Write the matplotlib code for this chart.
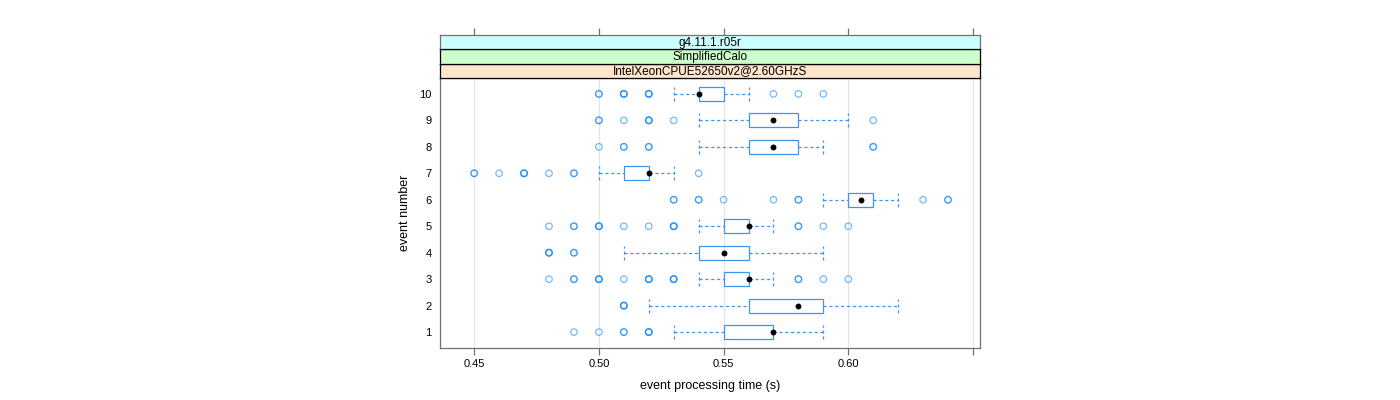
import matplotlib
matplotlib.use("Agg")
import matplotlib.pyplot as plt
from matplotlib.patches import Rectangle

plt.rcParams['font.family'] = ['Liberation Sans', 'DejaVu Sans']

# ---- data ----
events = [1, 2, 3, 4, 5, 6, 7, 8, 9, 10]
whisker_lo = [0.53, 0.52, 0.54, 0.51, 0.54, 0.59, 0.50, 0.54, 0.54, 0.53]
box_lo     = [0.55, 0.56, 0.55, 0.54, 0.55, 0.60, 0.51, 0.56, 0.56, 0.54]
median     = [0.57, 0.58, 0.56, 0.55, 0.56, 0.605, 0.52, 0.57, 0.57, 0.54]
box_hi     = [0.57, 0.59, 0.56, 0.56, 0.56, 0.61, 0.52, 0.58, 0.58, 0.55]
whisker_hi = [0.59, 0.62, 0.57, 0.59, 0.57, 0.62, 0.53, 0.59, 0.60, 0.56]
# outliers: (value, multiplicity) per event
outliers = [
    [(0.49, 1), (0.50, 1), (0.51, 2), (0.52, 3)],
    [(0.51, 3)],
    [(0.48, 1), (0.49, 2), (0.50, 3), (0.51, 1), (0.52, 3), (0.53, 3),
     (0.58, 2), (0.59, 1), (0.60, 1)],
    [(0.48, 3), (0.49, 2)],
    [(0.48, 1), (0.49, 2), (0.50, 3), (0.51, 1), (0.52, 1), (0.53, 3),
     (0.58, 2), (0.59, 1), (0.60, 1)],
    [(0.53, 2), (0.54, 2), (0.55, 1), (0.57, 1), (0.58, 2), (0.63, 1), (0.64, 2)],
    [(0.45, 2), (0.46, 1), (0.47, 3), (0.48, 1), (0.49, 2), (0.54, 1)],
    [(0.50, 1), (0.51, 2), (0.52, 2), (0.61, 2)],
    [(0.50, 2), (0.51, 1), (0.52, 3), (0.53, 1), (0.61, 1)],
    [(0.50, 2), (0.51, 3), (0.52, 3), (0.57, 1), (0.58, 1), (0.59, 1)],
]
x_ticks = [0.45, 0.50, 0.55, 0.60, 0.65]
x_labels = ["0.45", "0.50", "0.55", "0.60", ""]
strips = ["IntelXeonCPUE52650v2@2.60GHzS", "SimplifiedCalo", "g4.11.1.r05r"]
strip_colors = ["#ffe5cc", "#ccffcc", "#ccffff"]

BLUE = "#0080ff"
BOXBLUE = "#3a95f5"
FRAME = "#707070"

fig = plt.figure(figsize=(14, 4), dpi=100)
W, H = 1400, 400
pl, pr, pb, pt = 440, 980, 348, 78
st_top = 35
ax = fig.add_axes([pl / W, 1 - pb / H, (pr - pl) / W, (pb - pt) / H])
ax.set_xlim(0.4363, 0.6528)
ax.set_ylim(0.4, 10.6)

for t in x_ticks:
    ax.axvline(t, color="#e6e6e6", lw=0.9, zorder=0)

bh = 0.53
dash = (0, (2.5, 2.2))
for i, ev in enumerate(events):
    ax.plot([whisker_lo[i], box_lo[i]], [ev, ev], color=BOXBLUE, lw=0.9,
            ls=dash, zorder=2)
    ax.plot([box_hi[i], whisker_hi[i]], [ev, ev], color=BOXBLUE, lw=0.9,
            ls=dash, zorder=2)
    for w in (whisker_lo[i], whisker_hi[i]):
        ax.plot([w, w], [ev - bh / 2, ev + bh / 2], color=BOXBLUE, lw=0.9,
                ls=dash, zorder=2)
    ax.add_patch(Rectangle((box_lo[i], ev - bh / 2), box_hi[i] - box_lo[i], bh,
                           fill=False, edgecolor=BOXBLUE, lw=0.9, zorder=3))
    ax.scatter([median[i]], [ev], s=18, color="black", zorder=5, linewidths=0)
    for v, n in outliers[i]:
        for _ in range(n):
            ax.scatter([v], [ev], s=22, facecolors="none", edgecolors=BLUE,
                       linewidths=0.9, alpha=0.55, zorder=4)

ax.set_xticks(x_ticks)
ax.set_xticklabels(x_labels, fontsize=8)
ax.set_yticks(events)
ax.set_yticklabels([str(e) for e in events], fontsize=8)
ax.tick_params(axis="x", direction="out", length=5, color=FRAME, width=0.9, pad=3)
ax.tick_params(axis="y", length=0, pad=6)
for s in ax.spines.values():
    s.set_color(FRAME)
    s.set_linewidth(0.9)
ax.set_xlabel("event processing time (s)", fontsize=9, labelpad=8)
ax.set_ylabel("event number", fontsize=9, labelpad=6)

# strips
sh = (pt - st_top) / 3.0
for k, (lab, col) in enumerate(zip(strips, strip_colors)):
    y_bot = pt - k * sh
    sax = fig.add_axes([pl / W, 1 - y_bot / H, (pr - pl) / W, sh / H])
    sax.set_xlim(0.4363, 0.6528)
    sax.set_ylim(0, 1)
    sax.set_facecolor(col)
    sax.set_yticks([])
    sax.text(0.5, 0.45, lab, transform=sax.transAxes, ha="center", va="center",
             fontsize=8.5)
    for s in sax.spines.values():
        s.set_color("black")
        s.set_linewidth(0.9)
    if k == 2:
        sax.set_xticks(x_ticks)
        sax.xaxis.set_ticks_position("top")
        sax.tick_params(axis="x", direction="out", length=5, color=FRAME,
                        width=0.9, labeltop=False, labelbottom=False)
        sax.spines["top"].set_color(FRAME)
        sax.spines["left"].set_color(FRAME)
        sax.spines["right"].set_color(FRAME)
    else:
        sax.set_xticks([])

fig.savefig("out.png", dpi=100)
